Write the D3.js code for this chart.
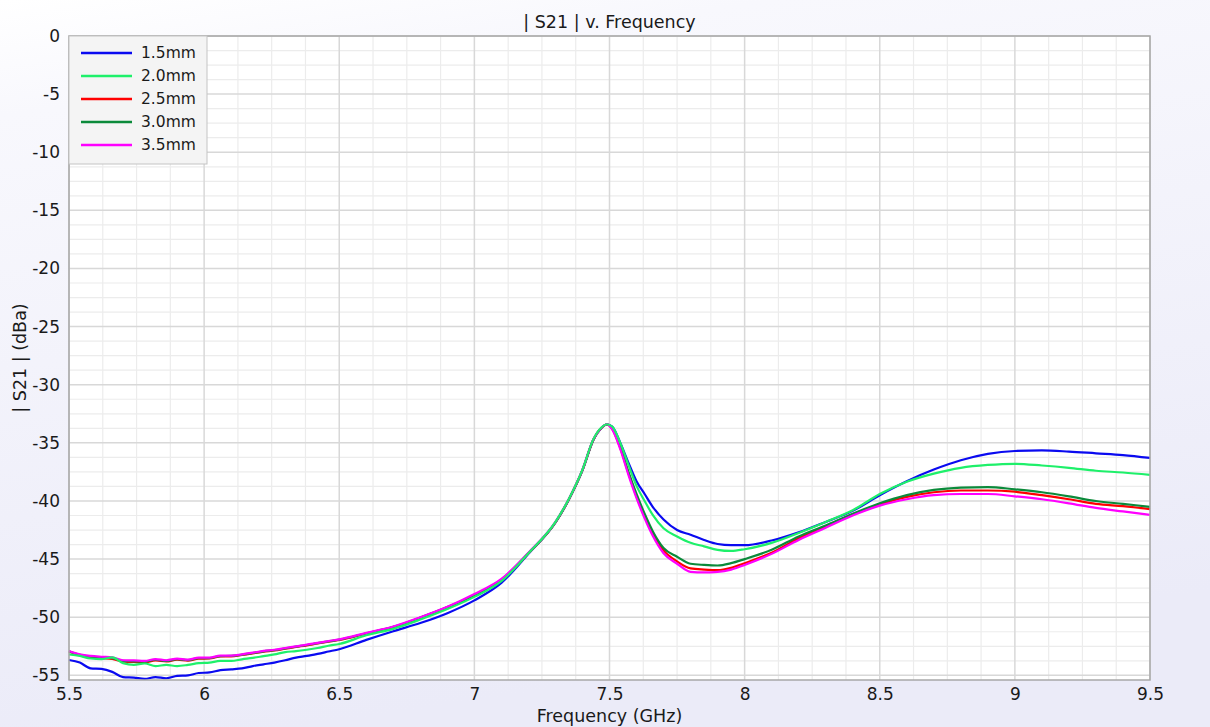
<!DOCTYPE html>
<html>
<head>
<meta charset="utf-8">
<script src="https://cdn.jsdelivr.net/npm/d3@7"></script>
<style>
html,body{margin:0;padding:0;}
body{width:1210px;height:727px;overflow:hidden;}
text{font-family:"DejaVu Sans",sans-serif;fill:#1a1a1a;}
</style>
</head>
<body>
<svg id="chart" width="1210" height="727"></svg>
<script>
// ---- data ----
const freq = [5.50,5.54,5.58,5.62,5.66,5.70,5.74,5.78,5.82,5.86,5.90,5.94,5.98,6.02,6.06,6.10,6.14,6.18,6.22,6.26,6.30,6.34,6.38,6.42,6.46,6.50,
  6.60,6.70,6.80,6.90,7.00,7.10,7.20,7.30,
  7.35,7.40,7.44,7.47,7.49,7.51,7.54,7.57,7.60,7.63,7.66,7.70,7.75,7.80,7.85,7.90,7.95,8.00,
  8.10,8.20,8.30,8.40,8.50,8.60,8.70,8.80,8.90,9.00,9.10,9.20,9.30,9.40,9.50];

const s15 = [-53.68,-53.90,-54.40,-54.45,-54.70,-55.15,-55.20,-55.30,-55.15,-55.25,-55.05,-55.00,-54.80,-54.75,-54.55,-54.48,-54.40,-54.20,-54.05,-53.90,-53.70,-53.47,-53.33,-53.15,-52.95,-52.75,
  -51.95,-51.20,-50.50,-49.65,-48.55,-47.05,-44.55,-41.85,
  -39.85,-37.35,-34.75,-33.72,-33.40,-33.60,-35.00,-36.70,-38.30,-39.40,-40.50,-41.60,-42.50,-42.90,-43.35,-43.70,-43.80,-43.80,
  -43.40,-42.70,-41.80,-40.85,-39.50,-38.30,-37.30,-36.50,-35.95,-35.70,-35.65,-35.75,-35.90,-36.05,-36.30];

const s20 = [-53.19,-53.33,-53.55,-53.60,-53.45,-53.95,-54.10,-53.98,-54.20,-54.10,-54.20,-54.10,-53.95,-53.90,-53.76,-53.76,-53.62,-53.50,-53.35,-53.20,-53.00,-52.92,-52.80,-52.65,-52.45,-52.30,
  -51.55,-51.00,-50.20,-49.30,-48.25,-46.90,-44.50,-41.80,
  -39.80,-37.30,-34.70,-33.68,-33.40,-33.60,-35.00,-36.90,-38.70,-40.00,-41.20,-42.35,-43.05,-43.60,-43.90,-44.20,-44.30,-44.15,
  -43.60,-42.75,-41.80,-40.80,-39.40,-38.35,-37.65,-37.15,-36.90,-36.80,-36.95,-37.15,-37.40,-37.55,-37.75];

const s25 = [-52.95,-53.28,-53.45,-53.52,-53.58,-53.82,-53.85,-53.88,-53.72,-53.80,-53.66,-53.74,-53.56,-53.55,-53.38,-53.37,-53.25,-53.11,-52.96,-52.86,-52.71,-52.56,-52.42,-52.26,-52.11,-51.96,
  -51.40,-50.85,-50.05,-49.15,-48.10,-46.80,-44.50,-41.85,
  -39.85,-37.35,-34.75,-33.72,-33.42,-33.80,-35.45,-37.60,-39.60,-41.30,-42.80,-44.25,-45.20,-45.80,-45.90,-45.95,-45.75,-45.35,
  -44.45,-43.20,-42.20,-41.15,-40.30,-39.65,-39.25,-39.10,-39.10,-39.20,-39.50,-39.85,-40.25,-40.45,-40.70];

const s30 = [-52.93,-53.24,-53.40,-53.47,-53.52,-53.76,-53.79,-53.82,-53.66,-53.76,-53.61,-53.69,-53.51,-53.51,-53.34,-53.33,-53.22,-53.08,-52.93,-52.83,-52.68,-52.53,-52.39,-52.23,-52.08,-51.93,
  -51.38,-50.83,-50.03,-49.13,-48.08,-46.78,-44.48,-41.85,
  -39.85,-37.35,-34.75,-33.72,-33.42,-33.75,-35.35,-37.50,-39.40,-41.10,-42.60,-44.05,-44.80,-45.40,-45.50,-45.55,-45.35,-45.00,
  -44.20,-43.05,-42.10,-41.10,-40.20,-39.50,-39.05,-38.85,-38.80,-39.00,-39.25,-39.60,-40.00,-40.25,-40.50];

const s35 = [-52.90,-53.19,-53.33,-53.40,-53.45,-53.70,-53.72,-53.76,-53.60,-53.70,-53.56,-53.65,-53.47,-53.47,-53.30,-53.30,-53.19,-53.05,-52.90,-52.80,-52.65,-52.50,-52.36,-52.20,-52.05,-51.90,
  -51.35,-50.80,-50.00,-49.10,-48.00,-46.70,-44.45,-41.80,
  -39.80,-37.30,-34.70,-33.70,-33.40,-33.85,-35.55,-37.75,-39.75,-41.50,-43.00,-44.50,-45.40,-46.10,-46.15,-46.10,-45.90,-45.50,
  -44.55,-43.35,-42.30,-41.25,-40.40,-39.85,-39.50,-39.40,-39.40,-39.60,-39.85,-40.20,-40.60,-40.90,-41.20];

const seriesNames = ["1.5mm","2.0mm","2.5mm","3.0mm","3.5mm"];
const seriesValues = [s15, s20, s25, s30, s35];
const seriesColors = ["#0a0af0","#1ef06a","#ff0000","#0b8a3a","#ff00ff"];
const drawOrder = [0, 2, 3, 4, 1];

const xTicks = [5.5, 6, 6.5, 7, 7.5, 8, 8.5, 9, 9.5];
const xTickLabels = ["5.5","6","6.5","7","7.5","8","8.5","9","9.5"];
const yTicks = [0,-5,-10,-15,-20,-25,-30,-35,-40,-45,-50,-55];
const yTickLabels = ["0","-5","-10","-15","-20","-25","-30","-35","-40","-45","-50","-55"];

const titleText = "| S21 | v. Frequency";
const xLabelText = "Frequency (GHz)";
const yLabelText = "| S21 | (dBa)";

// ---- layout ----
const W = 1210, H = 727;
const m = {left: 69, right: 60, top: 36, bottom: 47};
const svg = d3.select("#chart");

const defs = svg.append("defs");
const grad = defs.append("linearGradient").attr("id","bg").attr("x1","0").attr("y1","0").attr("x2","0.25").attr("y2","1");
grad.append("stop").attr("offset","0").attr("stop-color","#ffffff");
grad.append("stop").attr("offset","0.15").attr("stop-color","#f8f8fd");
grad.append("stop").attr("offset","1").attr("stop-color","#ebebf8");
svg.append("rect").attr("width",W).attr("height",H).attr("fill","url(#bg)");

const x = d3.scaleLinear().domain([5.5, 9.5]).range([m.left, W - m.right]);
const y = d3.scaleLinear().domain([-55.4, 0]).range([H - m.bottom, m.top]);

const g = svg.append("g");
g.append("rect").attr("x", x(5.5)).attr("y", y(0)).attr("width", x(9.5)-x(5.5)).attr("height", y(-55.4)-y(0)).attr("fill","#ffffff");

// minor grid
const xMinor = d3.range(0, 33).map(i => 5.5 + i*0.125).filter((v,i) => i % 4 !== 0);
const yMinor = d3.range(0, 45).map(i => -i*1.25).filter((v,i) => i % 4 !== 0 && v >= -55.4);
g.append("g").selectAll("line").data(xMinor).join("line")
  .attr("x1", d => x(d)).attr("x2", d => x(d)).attr("y1", y(0)).attr("y2", y(-55.4))
  .attr("stroke","#ececec").attr("stroke-width",1.2);
g.append("g").selectAll("line").data(yMinor).join("line")
  .attr("y1", d => y(d)).attr("y2", d => y(d)).attr("x1", x(5.5)).attr("x2", x(9.5))
  .attr("stroke","#ececec").attr("stroke-width",1.2);
// major grid
g.append("g").selectAll("line").data(xTicks).join("line")
  .attr("x1", d => x(d)).attr("x2", d => x(d)).attr("y1", y(0)).attr("y2", y(-55.4))
  .attr("stroke","#d8d8d8").attr("stroke-width",1.5);
g.append("g").selectAll("line").data(yTicks).join("line")
  .attr("y1", d => y(d)).attr("y2", d => y(d)).attr("x1", x(5.5)).attr("x2", x(9.5))
  .attr("stroke","#d8d8d8").attr("stroke-width",1.5);

// curves
const line = d3.line().x(d => x(d[0])).y(d => y(d[1])).curve(d3.curveMonotoneX);
const cg = g.append("g");
drawOrder.forEach(i => {
  cg.append("path")
    .datum(freq.map((f, k) => [f, seriesValues[i][k]]))
    .attr("d", line).attr("fill","none")
    .attr("stroke", seriesColors[i]).attr("stroke-width", 2.2)
    .attr("stroke-linejoin","round");
});

// border
g.append("rect").attr("x", x(5.5)).attr("y", y(0)).attr("width", x(9.5)-x(5.5)).attr("height", y(-55.4)-y(0))
  .attr("fill","none").attr("stroke","#a8a8a8").attr("stroke-width",1.5);

// axes
const xAxis = d3.axisBottom(x).tickValues(xTicks).tickFormat((d,i) => xTickLabels[i]).tickSize(0).tickPadding(8);
const xg = svg.append("g").attr("transform", `translate(0,${H - m.bottom})`).call(xAxis);
xg.select(".domain").remove();
xg.selectAll("text").attr("font-size", 17).attr("font-family","DejaVu Sans").attr("fill","#1a1a1a");

const yAxis = d3.axisLeft(y).tickValues(yTicks).tickFormat((d,i) => yTickLabels[i]).tickSize(0).tickPadding(9);
const yg = svg.append("g").attr("transform", `translate(${m.left},0)`).call(yAxis);
yg.select(".domain").remove();
yg.selectAll("text").attr("font-size", 17).attr("font-family","DejaVu Sans").attr("fill","#1a1a1a");

// titles
svg.append("text").attr("x", (x(5.5)+x(9.5))/2).attr("y", 28).attr("text-anchor","middle").attr("font-size", 17.5).text(titleText);
svg.append("text").attr("x", (x(5.5)+x(9.5))/2).attr("y", 722).attr("text-anchor","middle").attr("font-size", 17.5).text(xLabelText);
svg.append("text").attr("transform", `translate(26,${(y(0)+y(-55.4))/2}) rotate(-90)`).attr("text-anchor","middle").attr("font-size", 17.5).text(yLabelText);

// legend
const lg = svg.append("g").attr("transform", `translate(${x(5.5)},${y(0)})`);
lg.append("rect").attr("x",0).attr("y",0).attr("width",138).attr("height",128)
  .attr("fill","#f4f4f4").attr("stroke","#c4c4c4").attr("stroke-width",1);
seriesNames.forEach((n, i) => {
  const yy = 17 + i*23;
  lg.append("line").attr("x1",12).attr("x2",63).attr("y1",yy).attr("y2",yy)
    .attr("stroke", seriesColors[i]).attr("stroke-width",2.5);
  lg.append("text").attr("x",72).attr("y",yy).attr("dy","0.35em").attr("font-size",15.5).text(n);
});
</script>
</body>
</html>
